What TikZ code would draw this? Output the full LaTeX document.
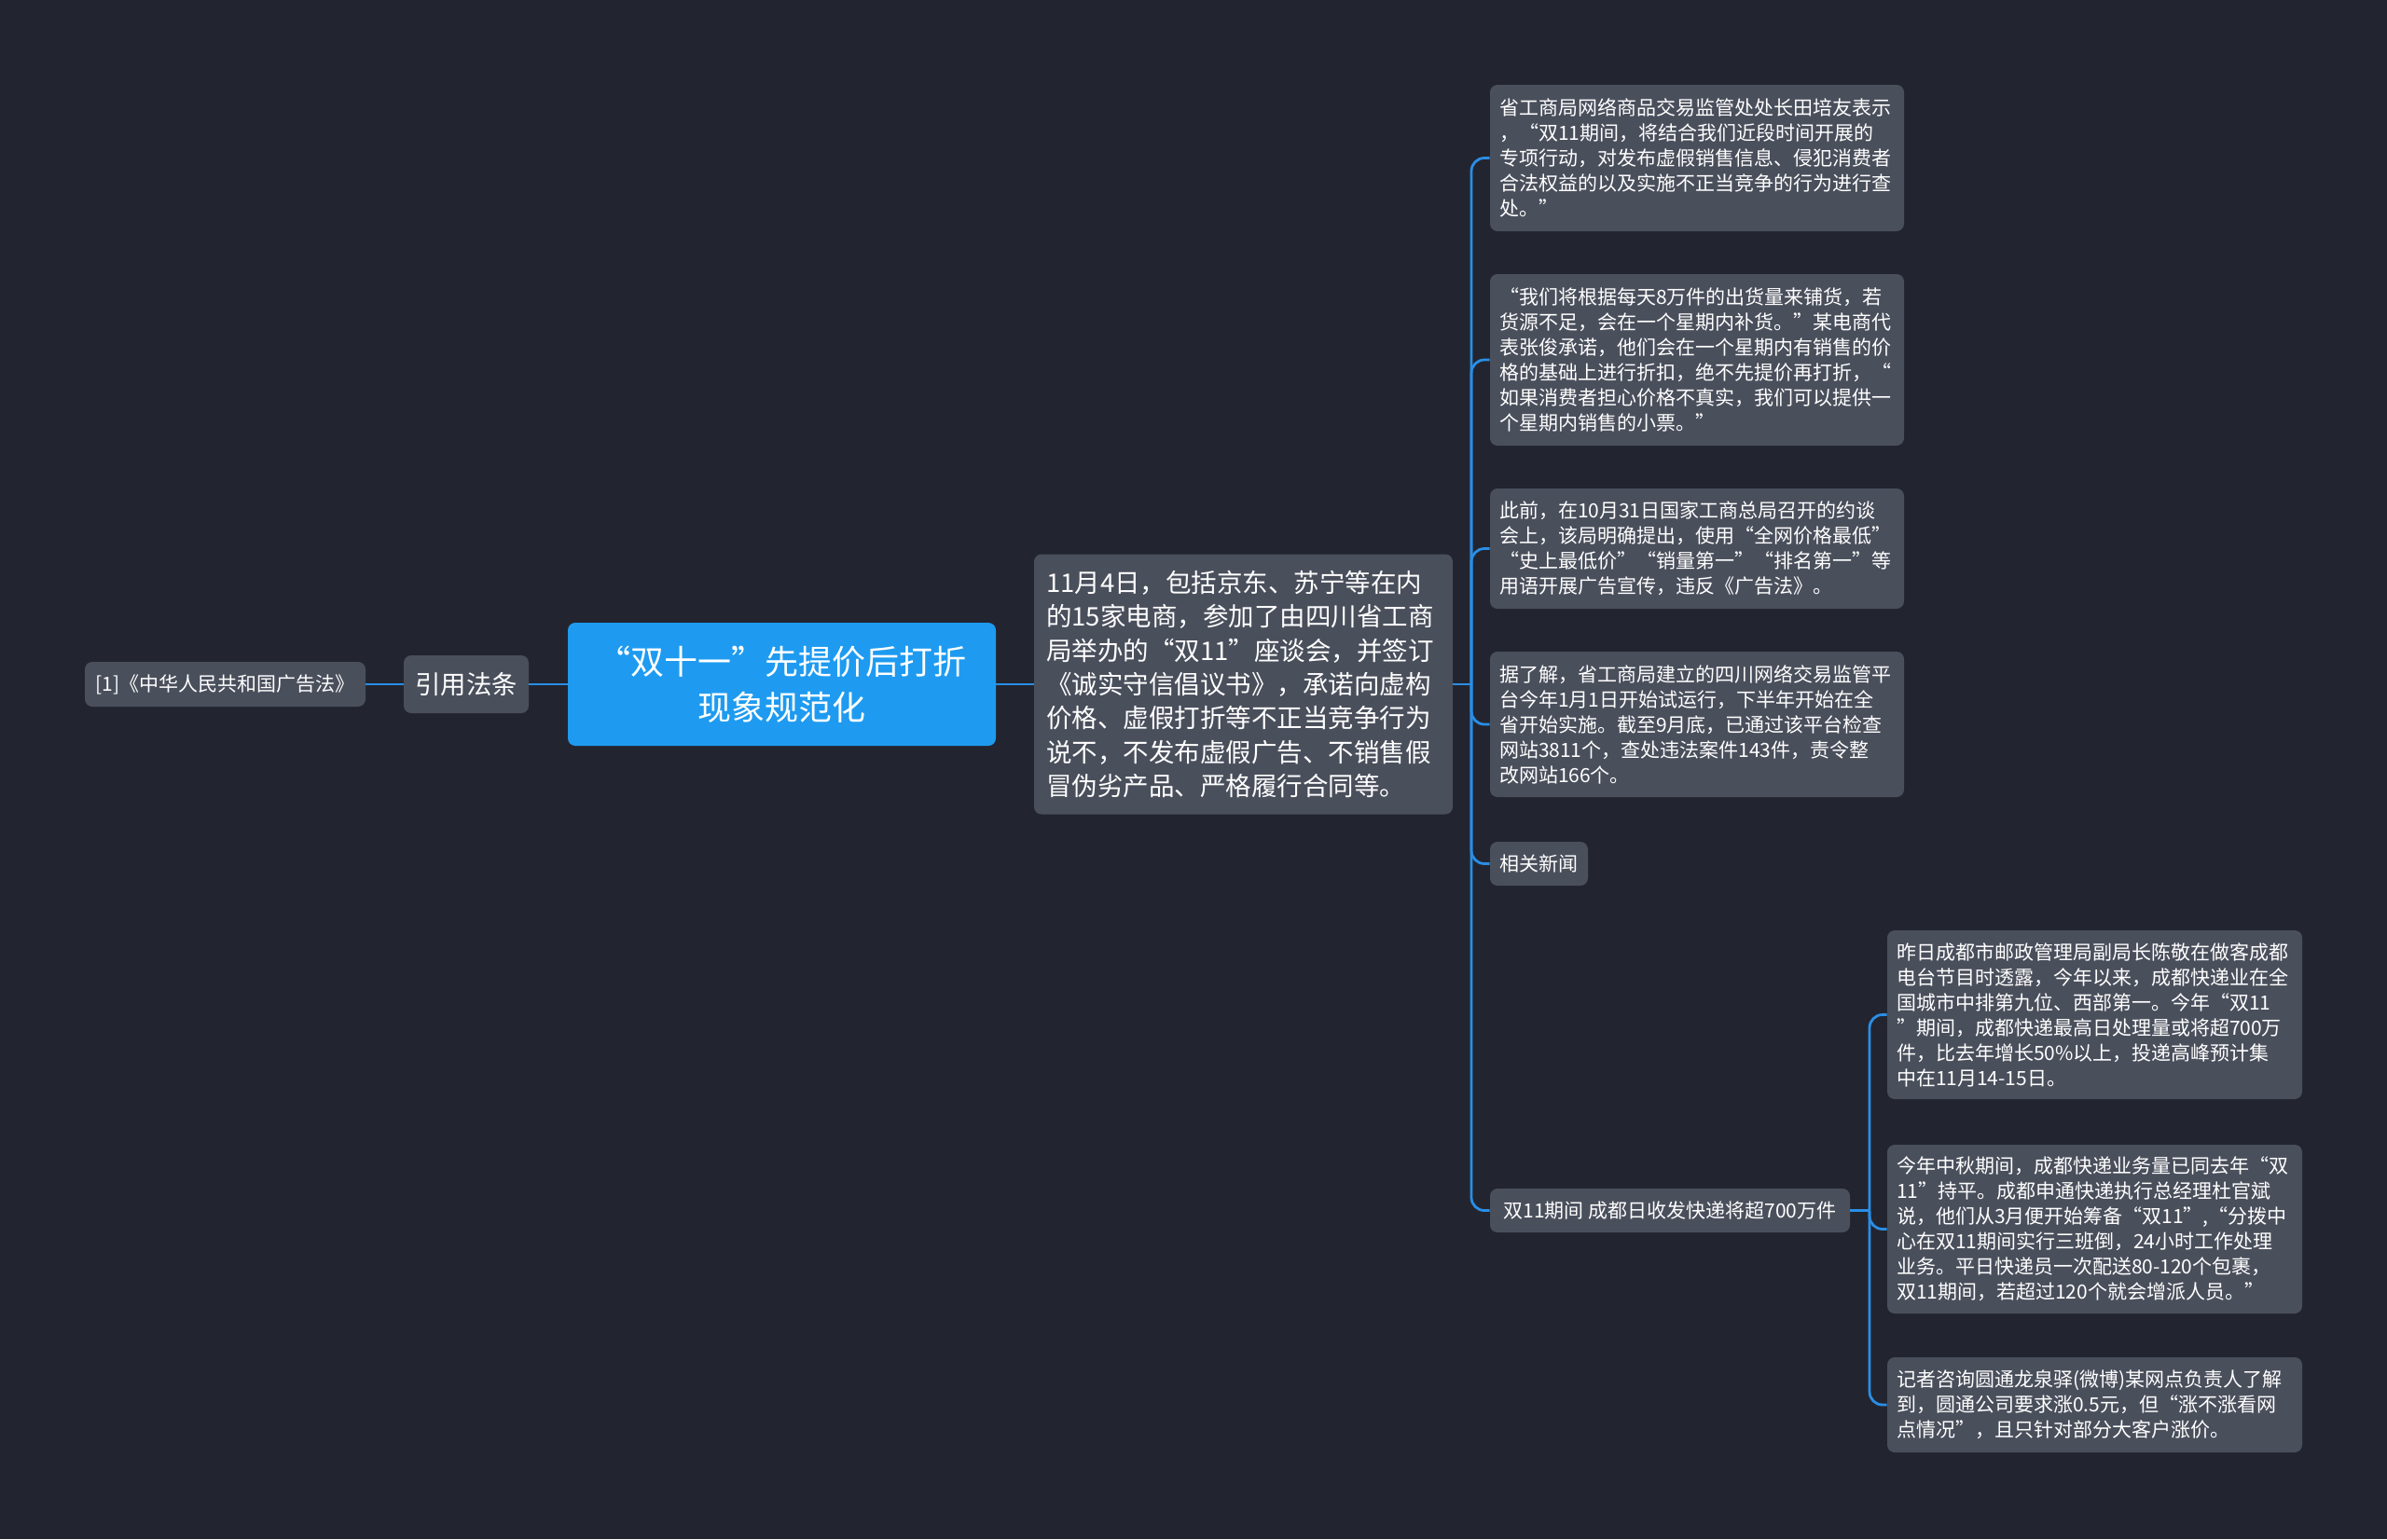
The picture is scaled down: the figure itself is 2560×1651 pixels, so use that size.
\documentclass[tikz,border=0pt]{standalone}
\usepackage{fontspec}
\setmainfont{Noto Sans CJK SC}

\definecolor{bgdark}{HTML}{22252F}
\definecolor{cardgray}{HTML}{4A4F5C}
\definecolor{rootblue}{HTML}{1E9BF0}
\definecolor{linkblue}{HTML}{2A8EE6}

\tikzset{
	card/.style={fill=cardgray, text=white, rounded corners=4pt, inner xsep=5pt, inner ysep=0pt, align=left, font=\fontsize{10.5}{13.5}\selectfont},
	tag/.style={fill=cardgray, text=white, rounded corners=4pt, inner sep=0pt, align=center, font=\fontsize{10.5}{13.5}\selectfont},
	rootbox/.style={fill=rootblue, text=white, rounded corners=4pt, inner sep=0pt, align=center, font=\fontsize{18}{24.5}\selectfont},
	link/.style={draw=linkblue, line width=1.4pt},
	elbow/.style={link, rounded corners=7pt}
}

\begin{document}
\begin{tikzpicture}[x=0.5pt, y=-0.5pt]
	\fill[bgdark] (0,0) rectangle (2560,1651);

	\node[rootbox, minimum width=229.5pt, minimum height=66pt] (root) at (838.5,734) {“双十一”先提价后打折\\现象规范化};
	\node[tag, minimum width=67pt, minimum height=31pt, font=\fontsize{13.7}{18}\selectfont] (quote) at (500,734) {引用法条};
	\node[tag, minimum width=150.5pt, minimum height=24pt] (law) at (241.5,734) {[1]《中华人民共和国广告法》};

	\node[card, text width=211.5pt, inner xsep=6.5pt, minimum height=139.5pt, font=\fontsize{13.75}{18.2}\selectfont] (main) at (1333.5,734) {11月4日，包括京东、苏宁等在内\\的15家电商，参加了由四川省工商\\局举办的“双11”座谈会，并签订\\《诚实守信倡议书》，承诺向虚构\\价格、虚假打折等不正当竞争行为\\说不，不发布虚假广告、不销售假\\冒伪劣产品、严格履行合同等。};

	\node[card, text width=212pt, minimum height=78.5pt] (info1) at (1820,169.5) {省工商局网络商品交易监管处处长田培友表示\\，“双11期间，将结合我们近段时间开展的\\专项行动，对发布虚假销售信息、侵犯消费者\\合法权益的以及实施不正当竞争的行为进行查\\处。”};
	\node[card, text width=212pt, minimum height=92pt] (info2) at (1820,386) {“我们将根据每天8万件的出货量来铺货，若\\货源不足，会在一个星期内补货。”某电商代\\表张俊承诺，他们会在一个星期内有销售的价\\格的基础上进行折扣，绝不先提价再打折，“\\如果消费者担心价格不真实，我们可以提供一\\个星期内销售的小票。”};
	\node[card, text width=212pt, minimum height=64.5pt] (info3) at (1820,588.5) {此前，在10月31日国家工商总局召开的约谈\\会上，该局明确提出，使用“全网价格最低”\\“史上最低价”“销量第一”“排名第一”等\\用语开展广告宣传，违反《广告法》。};
	\node[card, text width=212pt, minimum height=78pt] (info4) at (1820,777) {据了解，省工商局建立的四川网络交易监管平\\台今年1月1日开始试运行，下半年开始在全\\省开始实施。截至9月底，已通过该平台检查\\网站3811个，查处违法案件143件，责令整\\改网站166个。};
	\node[tag, minimum width=52.5pt, minimum height=23.5pt] (news) at (1650.5,926.5) {相关新闻};
	\node[tag, minimum width=193pt, minimum height=23.5pt] (express) at (1791,1298.5) {双11期间 成都日收发快递将超700万件};

	\node[card, text width=212.5pt, minimum height=90.5pt] (exA) at (2246.5,1088.5) {昨日成都市邮政管理局副局长陈敬在做客成都\\电台节目时透露，今年以来，成都快递业在全\\国城市中排第九位、西部第一。今年“双11\\”期间，成都快递最高日处理量或将超700万\\件，比去年增长50\%以上，投递高峰预计集\\中在11月14-15日。};
	\node[card, text width=212.5pt, minimum height=90.5pt] (exB) at (2246.5,1318.5) {今年中秋期间，成都快递业务量已同去年“双\\11”持平。成都申通快递执行总经理杜官斌\\说，他们从3月便开始筹备“双11”,“分拨中\\心在双11期间实行三班倒，24小时工作处理\\业务。平日快递员一次配送80-120个包裹，\\双11期间，若超过120个就会增派人员。”};
	\node[card, text width=212.5pt, minimum height=51pt] (exC) at (2246.5,1507) {记者咨询圆通龙泉驿(微博)某网点负责人了解\\到，圆通公司要求涨0.5元，但“涨不涨看网\\点情况”，且只针对部分大客户涨价。};

	\coordinate (mainJ) at (1578,734);
	\coordinate (exJ) at (2005,1298.5);

	\draw[link] (law.east) -- (quote.west);
	\draw[link] (quote.east) -- (root.west);
	\draw[link] (root.east) -- (main.west);
	\draw[link] (main.east) -- (mainJ);
	\draw[elbow] (mainJ) |- (info1.west);
	\draw[elbow] (mainJ) |- (info2.west);
	\draw[elbow] (mainJ) |- (info3.west);
	\draw[elbow] (mainJ) |- (info4.west);
	\draw[elbow] (mainJ) |- (news.west);
	\draw[elbow] (mainJ) |- (express.west);
	\draw[link] (express.east) -- (exJ);
	\draw[elbow] (exJ) |- (exA.west);
	\draw[elbow] (exJ) |- (exB.west);
	\draw[elbow] (exJ) |- (exC.west);
\end{tikzpicture}
\end{document}
